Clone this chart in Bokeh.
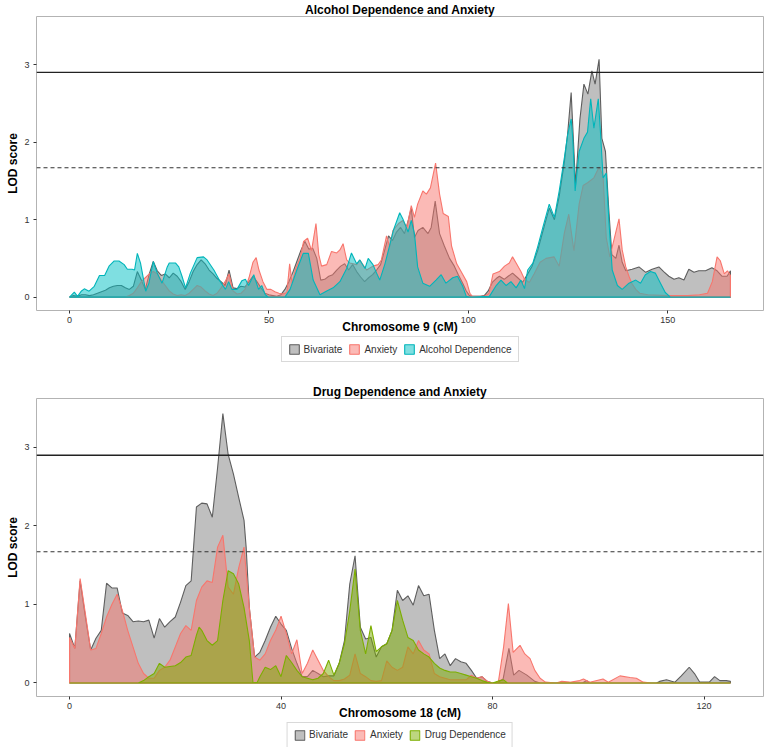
from bokeh.plotting import figure
from bokeh.models import Range1d, Span, Legend, LegendItem, FixedTicker
from bokeh.layouts import column
from bokeh.embed import file_html
from bokeh.resources import INLINE

FONT = "Liberation Sans"

# ---------------- Chromosome 9 : Alcohol Dependence and Anxiety ----------------
chr9_biv_cm = [0,1,2,3,4,5,6,7,8,9,10,11,12,13,14,15,16,17,18,19,20,21,22,23,24,25,26,27,28,29,30,
               31,32,33,34,35,36,37,38,39,40,41,42,43,44,45,46,47,48,49,50,51,52,53,54,55,56,57,58,59,60,
               61,62,63,64,65,66,67,68,69,70,71,72,73,74,75,76,77,78,79,80,81,82,83,84,85,85.7,86.5,87.4,
               88.6,89.9,90.7,91.7,92.8,94,95.3,96.5,97.5,98.6,99.5,100.3,101,102,103,104,105,106,107,107.8,
               109,110,111.1,112.4,113.6,114.9,116,117.4,118.7,120.3,121.6,122.8,124.1,124.9,125.8,126.9,128,
               129,130,131,131.8,132.8,133.5,134.4,135.2,136,137,137.8,138.6,139.5,141.1,142.8,144.5,146.1,
               147.8,149,150.3,151.6,152.8,154.1,155.3,156.6,157.8,159.5,161.1,162.4,163.6,164.9,165.75]
chr9_biv_lod = [0,0.02,0.01,0.03,0.03,0.02,0.03,0.05,0.07,0.09,0.12,0.14,0.15,0.15,0.12,0.1,0.14,0.33,0.22,0.1,0.3,
                0.46,0.34,0.28,0.3,0.25,0.31,0.27,0.2,0.1,0.2,0.33,0.42,0.48,0.43,0.35,0.3,0.24,0.2,0.15,0.35,
                0.12,0.11,0.14,0.13,0.2,0.27,0.2,0.12,0.05,0.03,0.02,0.01,0.03,0.1,0.2,0.32,0.46,0.6,0.72,0.62,
                0.63,0.5,0.22,0.23,0.27,0.29,0.35,0.4,0.43,0.35,0.42,0.33,0.26,0.2,0.25,0.29,0.35,0.42,0.6,0.79,
                0.73,0.84,0.9,0.82,1.0,1.15,0.77,0.86,0.9,0.82,0.9,1.24,0.82,0.66,0.5,0.4,0.29,0.18,0.08,0.02,
                0.01,0.01,0.01,0.02,0.08,0.19,0.24,0.27,0.23,0.27,0.31,0.25,0.19,0.3,0.4,0.6,0.85,1.15,1.0,1.3,
                1.75,2.1,2.64,1.45,2.3,2.75,2.62,2.92,2.75,3.07,2.05,1.88,1.16,0.55,0.5,0.67,0.45,0.34,0.36,0.39,
                0.32,0.36,0.39,0.33,0.27,0.23,0.25,0.22,0.36,0.32,0.34,0.34,0.38,0.34,0.27,0.27,0.34]

chr9_anx_cm = [0,14,15,16,17,18,19,20,21,22,23,24,25,26,27,28,29,30,31,32,33,34,35,36,37,38,39,40,41,42,43,44,
               45,46,46.8,47.5,48.5,49.5,50.5,51.5,52.5,53.5,54.5,55.2,55.8,56.8,57.8,58.7,59.7,60.7,61.8,62.5,
               63.2,64.5,65.7,67,67.8,68.6,69.5,70.3,72,72.8,74.5,76.1,77.4,78.2,79.5,80.3,81.1,82.5,83.6,84.6,
               85.7,86.5,87.3,88.6,89.5,90.5,91.8,92.8,93.7,95,95.8,97.1,98.3,99.6,100.4,101,104,105.2,106.2,
               107.8,109.1,110.3,111.1,112,113.2,114.1,115.3,116.5,118,119.5,121.5,122.8,124.1,125.2,126.5,
               127.8,128.8,130,131.5,132.8,133.8,134.6,135.5,136.3,137.8,138.6,139.5,140.3,141,142,143,145,150,
               155,158,160,161.2,162.4,163.2,164.2,165,165.75]
chr9_anx_lod = [0,0,0.02,0.05,0.12,0.2,0.25,0.3,0.33,0.3,0.22,0.15,0.08,0.04,0.02,0.03,0.02,0.05,0.1,0.15,0.13,
                0.08,0.04,0.02,0.05,0.12,0.2,0.3,0.08,0.04,0.05,0.1,0.25,0.45,0.51,0.35,0.2,0.1,0.1,0.07,0.05,
                0.04,0.06,0.43,0.18,0.38,0.5,0.72,0.76,0.6,0.95,0.55,0.4,0.42,0.59,0.57,0.61,0.69,0.48,0.44,0.42,
                0.48,0.35,0.4,0.42,0.48,0.79,0.65,0.86,0.95,0.99,0.9,1.18,1.03,1.2,1.37,1.33,1.41,1.73,1.33,1.08,
                1.04,0.66,0.43,0.32,0.2,0.05,0.01,0.01,0.05,0.3,0.33,0.4,0.44,0.52,0.44,0.33,0.23,0.19,0.3,0.45,
                0.5,0.52,0.4,0.83,1.07,0.6,1.2,1.44,1.48,1.54,1.68,1.57,0.77,0.52,0.69,1.01,0.61,0.39,0.27,0.18,
                0.1,0.05,0.03,0.02,0.02,0.03,0.05,0.2,0.52,0.47,0.3,0.34,0.28]

chr9_alc_cm = [0,1.2,2,3,3.7,4.9,6.2,7.5,8.8,9.9,11.2,12.4,13.7,14.5,15.7,16.3,17,17.8,19.1,19.9,21,22,23.2,24.5,
               25,26.6,27.4,28.2,29.1,30.3,32,33.6,34.5,36.2,37.8,39.1,39.9,40.7,42,43.2,44.1,44.9,46.2,47.4,48.2,
               49.1,49.9,54,55.3,57,58.6,59.9,61.1,62.8,64.5,66.1,67.8,69.5,70.7,72,72.8,74.1,74.9,76.1,77,77.8,
               79.1,80.3,81.2,82.8,83.6,84.9,85.7,86.5,87.3,88.6,90.3,91.9,93.2,94.4,96.1,97.3,98.6,99.5,100.3,
               105.3,107,108.2,109.5,110.7,112,113.2,114.1,114.9,116.2,117.4,118.7,120.3,121.6,122.8,124.1,124.9,
               125.8,126.2,126.8,127.8,129,129.9,130.7,131.5,132.6,133.2,133.8,134.6,135.3,136.1,137.4,138.6,
               140.3,142,143.2,144.4,145.7,146.9,148.2,149.4,150.7,165.75]
chr9_alc_lod = [0,0.064,0.01,0.08,0.107,0.077,0.14,0.28,0.28,0.4,0.467,0.467,0.42,0.36,0.36,0.35,0.565,0.44,0.077,
                0.18,0.46,0.31,0.18,0.39,0.44,0.44,0.39,0.27,0.12,0.31,0.51,0.52,0.48,0.35,0.2,0.1,0.2,0.1,0.1,
                0.21,0.23,0.15,0.29,0.1,0.15,0.03,0,0,0.1,0.35,0.565,0.565,0.22,0.03,0.08,0.12,0.2,0.37,0.57,0.43,
                0.48,0.37,0.5,0.42,0.31,0.22,0.43,0.67,0.86,1.09,1.01,0.84,0.99,0.82,0.39,0.18,0.14,0.22,0.29,0.18,
                0.25,0.27,0.14,0.01,0,0.01,0.15,0.22,0.15,0.2,0.12,0.22,0.11,0.35,0.44,0.65,0.9,1.2,1.03,1.37,1.8,
                2.09,2.3,2.05,1.37,1.88,2.05,2.13,2.56,2.18,2.56,2.09,1.54,1.6,0.95,0.35,0.15,0.1,0.18,0.22,0.18,
                0.29,0.33,0.31,0.18,0.06,0,0]

# ---------------- Chromosome 18 : Drug Dependence and Anxiety ----------------
chr18_biv_cm = [0,1,2,3,4,5,6,7,8,9,10,11,12,13,14,15,16,17,18,19,20,21,22,23,24,25,26,27,28,29,30,31,32,33,
                33.4,34,35,36,37,38,39,40,41,42,43,44,45,46,47,48,49,50,51,52,53,54,55,56,57,58,59,60,61,62,63,
                64,65,66,67,68,69,70,71,72,73,74,75,76,77,78,79,80,81,82,83.1,84,85,86.5,88,89,97,97.8,98.5,
                111,111.6,112.9,114.5,115.7,117.2,118.2,119.2,121,122,123,124.2,125]
chr18_biv_lod = [0.63,0.44,1.3,0.84,0.42,0.57,0.67,1.27,1.21,1.21,0.89,0.86,0.78,0.79,0.78,0.8,0.57,0.82,0.71,
                 0.78,0.84,1.03,1.24,1.3,2.24,2.29,2.28,2.11,2.74,3.43,2.91,2.66,2.36,2.07,1.73,0.96,0.33,0.39,
                 0.54,0.71,0.85,0.75,0.67,0.44,0.25,0.08,0.08,0.16,0.12,0.08,0.09,0.09,0.25,0.54,1.26,1.62,0.71,
                 0.56,0.58,0.33,0.46,0.5,0.67,1.18,1.05,1.11,0.99,1.24,1.11,1.13,0.67,0.31,0.37,0.22,0.31,0.27,
                 0.25,0.16,0.06,0.08,0.02,0,0.01,0.05,0.44,0.1,0.16,0.1,0.02,0,0,0.03,0,0,0.02,0.04,0.01,0.09,
                 0.2,0.12,0.01,0.01,0.08,0.03,0.03,0.02]

chr18_anx_cm = [0,1,2,3,4,5,6,7,8,9,10,11,12,13,14,15,16,17,18,19,20,21,22,23,24,25,26,27,28,29,30,31,32,33,
                34,35,36,37,38,39,40,41,42,43,44,45,46,47,48,49,50,51,52,53,54,55,56,57,58,59,60,61,62,63,64,
                65,66,67,68,69,70,71,72,73,74,75,76,77,78,79,80,81.1,82.1,83,83.9,85.2,86.1,87.1,88,89,90,92,
                93.1,94.6,96.5,97.2,98.4,100.9,101.9,104.1,106,107.2,108.5,110,125]
chr18_anx_lod = [0.58,0.44,1.33,0.88,0.42,0.44,0.63,0.84,1.0,1.13,0.92,0.67,0.46,0.25,0.12,0.06,0.06,0.16,0.2,
                 0.29,0.46,0.63,0.73,0.67,1.05,1.22,1.3,1.28,1.73,1.88,1.22,1.13,1.47,1.73,0.96,0.33,0.29,0.37,
                 0.54,0.67,0.85,0.63,0.37,0.55,0.12,0.25,0.42,0.29,0.16,0.08,0.03,0.03,0.05,0.1,0.37,0.12,0.08,
                 0.03,0.02,0.03,0.28,0.2,0.16,0.2,0.46,0.37,0.54,0.42,0.37,0.12,0.08,0.06,0.04,0.04,0.04,0.04,
                 0.1,0.06,0.08,0.02,0,0.01,0.46,1.01,0.39,0.48,0.37,0.31,0.16,0.06,0.01,0,0.02,0.01,0.03,0.05,
                 0.01,0.05,0.01,0.09,0.07,0.06,0.01,0,0]

chr18_drug_cm = [0,12,13,14,15,16,17,18,19,20,21,22,23,24,24.5,25,26,27,28,29,30,31,32,33,34,34.7,35.5,36,37,
                 38,39,40,41,42,43,44,45,46,47,48,49,50,51,52,53,54,55,56,57,58,59,60,61,62,63,64,65,66,67,68,
                 69,70,71,72,73,74,75,76,77,78,79,80,81.4,82.1,82.8,125]
chr18_drug_lod = [0,0,0,0.03,0.08,0.12,0.25,0.2,0.21,0.22,0.26,0.33,0.35,0.61,0.71,0.67,0.54,0.48,0.54,1.05,
                  1.43,1.39,1.26,0.96,0.54,0,0.01,0.08,0.2,0.17,0.22,0.08,0.35,0.26,0.16,0.08,0.06,0.04,0.06,
                  0.12,0.29,0.1,0.25,0.5,0.92,1.45,0.67,0.37,0.73,0.4,0.46,0.5,0.67,1.05,0.8,0.58,0.54,0.42,
                  0.37,0.33,0.25,0.19,0.16,0.14,0.14,0.12,0.1,0.08,0.06,0.03,0.01,0,0.03,0.04,0,0]

lod_threshold = 2.9
lod_suggestive = 1.67
y_limits = (0, 3.45)

GRAY = ("#7f7f7f", "#5e5e5e")
RED = ("#F8766D", "#F8766D")
TEAL = ("#00BFC4", "#00B5BA")
GREEN = ("#7CAE00", "#7CAE00")

W = 765
BORDER_L, BORDER_R = 36, 2


def area(p, x, y, colors):
    xs = list(x) + [x[-1], x[0]]
    ys = list(y) + [0, 0]
    return p.patch(xs, ys, fill_color=colors[0], fill_alpha=0.5,
                   line_color=colors[1], line_width=1.1)


def panel(title, xlabel, xdata_max, xticks, series, height, top, bottom):
    pad = 0.05 * xdata_max
    ypad = 0.05 * (y_limits[1] - y_limits[0])
    p = figure(width=W, height=height, output_backend="svg", toolbar_location=None,
               x_range=Range1d(-pad, xdata_max + pad),
               y_range=Range1d(y_limits[0] - ypad, y_limits[1] + ypad),
               min_border_left=BORDER_L, min_border_right=BORDER_R, min_border_top=top,
               min_border_bottom=bottom)
    p.title.text = title
    p.title.align = "center"
    p.title.text_font = FONT
    p.title.text_font_size = "12px"
    p.title.text_font_style = "bold"
    p.title.text_color = "black"
    p.title.standoff = 0
    p.xgrid.visible = False
    p.ygrid.visible = False
    p.outline_line_color = "#b3b3b3"
    p.outline_line_width = 1

    p.xaxis.ticker = FixedTicker(ticks=xticks)
    p.yaxis.ticker = FixedTicker(ticks=[0, 1, 2, 3])
    for ax in (p.xaxis[0], p.yaxis[0]):
        ax.axis_line_color = None
        ax.major_tick_line_color = "#333333"
        ax.major_tick_out = 3
        ax.major_tick_in = 0
        ax.minor_tick_line_color = None
        ax.major_label_text_font = FONT
        ax.major_label_text_font_size = "9px"
        ax.major_label_text_color = "#333333"
        ax.axis_label_text_font = FONT
        ax.axis_label_text_font_size = "12px"
        ax.axis_label_text_font_style = "bold"
        ax.axis_label_text_color = "black"
    p.xaxis.major_label_standoff = 3
    p.xaxis.axis_label = xlabel
    p.xaxis.axis_label_standoff = -6
    p.yaxis.major_label_standoff = 4
    p.yaxis.axis_label = "LOD score"
    p.yaxis.axis_label_standoff = 1

    for name, x, y, colors in series:
        area(p, x, y, colors)

    p.add_layout(Span(location=lod_threshold, dimension="width", line_color="#222222", line_width=1.3))
    p.add_layout(Span(location=lod_suggestive, dimension="width", line_color="#333333", line_width=1.1,
                      line_dash="4 3"))
    return p


def legend_strip(series, height):
    q = figure(width=W, height=height, output_backend="svg", toolbar_location=None,
               x_range=Range1d(0, 1), y_range=Range1d(0, 1),
               min_border_left=BORDER_L, min_border_right=BORDER_R, min_border_top=0,
               min_border_bottom=0)
    q.axis.visible = False
    q.xgrid.visible = False
    q.ygrid.visible = False
    q.outline_line_color = None
    items = []
    for name, x, y, colors in series:
        # key swatch only: a patch placed outside the visible range of this strip
        r = q.patch([5, 6, 6], [5, 5, 6], fill_color=colors[0], fill_alpha=0.5,
                    line_color=colors[1], line_width=1.1)
        items.append(LegendItem(label=name, renderers=[r]))
    leg = Legend(items=items, orientation="horizontal", location="center")
    leg.label_text_font = FONT
    leg.label_text_font_size = "10px"
    leg.label_text_color = "#333333"
    leg.glyph_width = 12
    leg.glyph_height = 12
    leg.label_height = 12
    leg.label_standoff = 4
    leg.spacing = 6
    leg.padding = 6
    leg.margin = 0
    leg.border_line_color = "#b3b3b3"
    leg.border_line_width = 1
    leg.background_fill_color = "white"
    q.add_layout(leg)
    return q


series9 = [("Bivariate", chr9_biv_cm, chr9_biv_lod, GRAY),
           ("Anxiety", chr9_anx_cm, chr9_anx_lod, RED),
           ("Alcohol Dependence", chr9_alc_cm, chr9_alc_lod, TEAL)]
series18 = [("Bivariate", chr18_biv_cm, chr18_biv_lod, GRAY),
            ("Anxiety", chr18_anx_cm, chr18_anx_lod, RED),
            ("Drug Dependence", chr18_drug_cm, chr18_drug_lod, GREEN)]

p1 = panel("Alcohol Dependence and Anxiety", "Chromosome 9 (cM)", 165.75, [0, 50, 100, 150],
           series9, height=336, top=13, bottom=26)
l1 = legend_strip(series9, 26)
p2 = panel("Drug Dependence and Anxiety", "Chromosome 18 (cM)", 125, [0, 40, 80, 120],
           series18, height=360, top=36, bottom=26)
l2 = legend_strip(series18, 25)

layout = column(p1, l1, p2, l2, spacing=0)
open("out.html", "w").write(file_html(layout, INLINE))
